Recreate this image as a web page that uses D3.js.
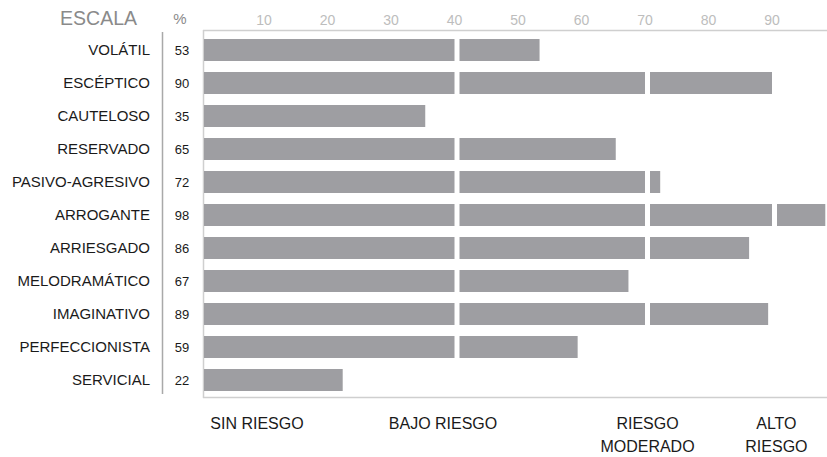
<!DOCTYPE html>
<html>
<head>
<meta charset="utf-8">
<script src="https://cdn.jsdelivr.net/npm/d3@7"></script>
<style>
  body { margin: 0; background: #fff; }
  text { font-family: "Liberation Sans", Arial, sans-serif; }
</style>
</head>
<body>
<div id="chart"></div>
<script>
// Data
var escalas = ["VOLÁTIL", "ESCÉPTICO", "CAUTELOSO", "RESERVADO", "PASIVO-AGRESIVO",
  "ARROGANTE", "ARRIESGADO", "MELODRAMÁTICO", "IMAGINATIVO", "PERFECCIONISTA", "SERVICIAL"];
var valores = [53, 90, 35, 65, 72, 98, 86, 67, 89, 59, 22];
var cortes = [0, 40, 70, 90, 100];
var tickValores = [10, 20, 30, 40, 50, 60, 70, 80, 90];
var riesgos = [
  { lines: ["SIN RIESGO"], at: 8.5 },
  { lines: ["BAJO RIESGO"], at: 37.8 },
  { lines: ["RIESGO", "MODERADO"], at: 70 },
  { lines: ["ALTO", "RIESGO"], at: 90.3 }
];

var svgWidth = 827, svgHeight = 457;

var svg = d3.select("#chart").append("svg")
  .attr("width", svgWidth)
  .attr("height", svgHeight);

var x = d3.scaleLinear().domain([0, 100]).range([203, 838]);
var y = d3.scaleBand().domain(escalas).range([33.5, 396.5]).paddingInner(1 / 3).paddingOuter(1 / 6);

// plot frame
svg.append("line").attr("x1", 203.5).attr("x2", 203.5).attr("y1", 30).attr("y2", 398)
  .attr("stroke", "#cfcfcf").attr("stroke-width", 1.5);
svg.append("line").attr("x1", 203).attr("x2", svgWidth).attr("y1", 30.5).attr("y2", 30.5)
  .attr("stroke", "#cfcfcf").attr("stroke-width", 1.5);
svg.append("line").attr("x1", 203).attr("x2", svgWidth).attr("y1", 397.5).attr("y2", 397.5)
  .attr("stroke", "#cfcfcf").attr("stroke-width", 1.5);

// separator between names and values
svg.append("line").attr("x1", 162.5).attr("x2", 162.5).attr("y1", 32).attr("y2", 394)
  .attr("stroke", "#a9a9a9").attr("stroke-width", 1.5);

// top axis
var topAxis = d3.axisTop(x).tickValues(tickValores).tickSize(0).tickPadding(0);
var gAxis = svg.append("g")
  .attr("transform", "translate(-3, 25)")
  .call(topAxis);
gAxis.select(".domain").remove();
gAxis.selectAll("text")
  .attr("fill", "#bdbdbd")
  .attr("font-size", "14px")
  .attr("dy", 0)
  .style("font-family", "'Liberation Sans', Arial, sans-serif");

// headers
svg.append("text").attr("x", 137).attr("y", 25).attr("text-anchor", "end")
  .attr("font-size", "19.5px").attr("fill", "#8a8a8a").text("ESCALA");
svg.append("text").attr("x", 180).attr("y", 24).attr("text-anchor", "middle")
  .attr("font-size", "15px").attr("fill", "#8a8a8a").text("%");

// row labels and values
var rows = escalas.map(function (e, i) { return { name: e, value: valores[i] }; });

svg.selectAll(".nombre").data(rows).enter().append("text")
  .attr("class", "nombre")
  .attr("x", 150)
  .attr("y", d => y(d.name) + y.bandwidth() / 2 + 4.5)
  .attr("text-anchor", "end")
  .attr("font-size", "15px")
  .attr("fill", "#1a1a1a")
  .text(d => d.name);

svg.selectAll(".valor").data(rows).enter().append("text")
  .attr("class", "valor")
  .attr("x", 182)
  .attr("y", d => y(d.name) + y.bandwidth() / 2 + 4.5)
  .attr("text-anchor", "middle")
  .attr("font-size", "13px")
  .attr("fill", "#1a1a1a")
  .text(d => d.value);

// bars split into risk segments
var segs = [];
rows.forEach(function (r) {
  for (var k = 0; k < cortes.length - 1; k++) {
    var a = cortes[k], b = Math.min(cortes[k + 1], r.value);
    if (b > a) segs.push({ name: r.name, a: a, b: b, last: b === r.value && b < cortes[k + 1] });
  }
});

svg.selectAll(".seg").data(segs).enter().append("rect")
  .attr("class", "seg")
  .attr("x", d => x(d.a) + (d.a > 0 ? 2.5 : 1))
  .attr("y", d => y(d.name))
  .attr("width", d => x(d.b) - x(d.a) - (d.a > 0 ? 2.5 : 1) - (d.last ? 0 : 2.5))
  .attr("height", y.bandwidth())
  .attr("fill", "#9e9ea2");

// risk labels
riesgos.forEach(function (r) {
  var t = svg.append("text")
    .attr("x", x(r.at))
    .attr("y", 429)
    .attr("text-anchor", "middle")
    .attr("font-size", "16px")
    .attr("fill", "#1a1a1a");
  r.lines.forEach(function (l, i) {
    t.append("tspan").attr("x", x(r.at)).attr("dy", i === 0 ? 0 : 23).text(l);
  });
});
</script>
</body>
</html>
